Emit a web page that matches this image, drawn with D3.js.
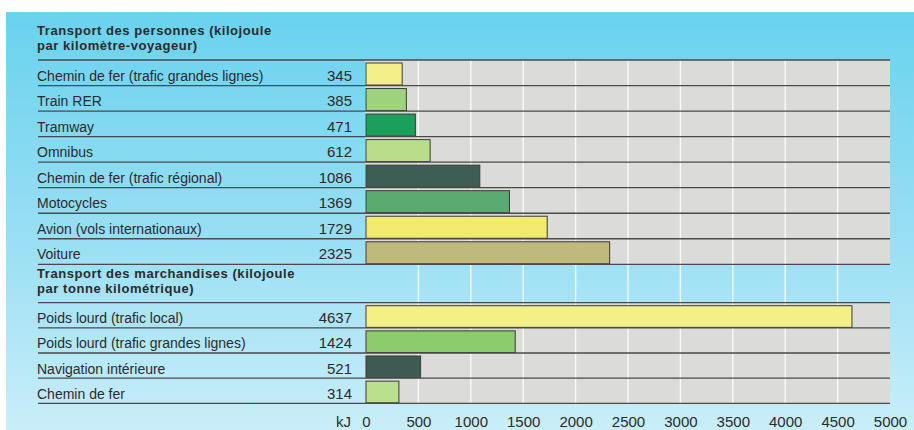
<!DOCTYPE html>
<html lang="fr">
<head>
<meta charset="UTF-8">
<title>Transport - consommation d'énergie</title>
<script src="https://cdnjs.cloudflare.com/ajax/libs/d3/7.8.5/d3.min.js"></script>
<style>
    body { margin: 0; background: #fff; font-family: "Liberation Sans", Arial, sans-serif; }
    svg { display: block; }
    .lbl { font-size: 14px; fill: #2b2b2b; }
    .num { font-size: 15px; fill: #2b2b2b; }
    .head { font-size: 13px; font-weight: bold; fill: #2b2b2b; letter-spacing: 0.55px; }
    .axis text { font-size: 15px; fill: #2b2b2b; font-family: "Liberation Sans", Arial, sans-serif; }
</style>
</head>
<body>
<div id="chart"></div>
<script>
    // data
    const personLabels = [
        "Chemin de fer (trafic grandes lignes)", "Train RER", "Tramway", "Omnibus",
        "Chemin de fer (trafic régional)", "Motocycles", "Avion (vols internationaux)", "Voiture"
    ];
    const personValues = [345, 385, 471, 612, 1086, 1369, 1729, 2325];
    const personColors = ["#f4ef8a", "#9ed27c", "#1c9f5a", "#b8de8c", "#3e5e55", "#5aaa72", "#f1ea6c", "#bfb97c"];

    const goodsLabels = [
        "Poids lourd (trafic local)", "Poids lourd (trafic grandes lignes)",
        "Navigation intérieure", "Chemin de fer"
    ];
    const goodsValues = [4637, 1424, 521, 314];
    const goodsColors = ["#f4ef86", "#8ccc6c", "#3d5b52", "#b9e08c"];

    const personTitle = ["Transport des personnes (kilojoule", "par kilomètre-voyageur)"];
    const goodsTitle = ["Transport des marchandises (kilojoule", "par tonne kilométrique)"];
    const tickValues = [0, 500, 1000, 1500, 2000, 2500, 3000, 3500, 4000, 4500, 5000];
    const unitLabel = "kJ";

    const W = 914, H = 430;
    const lineLeft = 38, valueRight = 352;

    const svg = d3.select("#chart").append("svg")
        .attr("width", W).attr("height", H);

    const grad = svg.append("defs").append("linearGradient")
        .attr("id", "bg").attr("x1", 0).attr("y1", 0).attr("x2", 0).attr("y2", 1);
    grad.append("stop").attr("offset", "0%").attr("stop-color", "#69d2ee");
    grad.append("stop").attr("offset", "55%").attr("stop-color", "#9adff4");
    grad.append("stop").attr("offset", "100%").attr("stop-color", "#c9eef9");

    svg.append("rect").attr("x", 6).attr("y", 12)
        .attr("width", W - 6).attr("height", H - 12).attr("fill", "url(#bg)");

    const x = d3.scaleLinear().domain([0, 5000]).range([366, 890]);

    const yP = d3.scaleBand().domain(personLabels).range([60, 264.3]);
    const yG = d3.scaleBand().domain(goodsLabels).range([302.7, 403.3]);

    const sections = [
        {labels: personLabels, values: personValues, colors: personColors, y: yP, title: personTitle, titleY: 35},
        {labels: goodsLabels, values: goodsValues, colors: goodsColors, y: yG, title: goodsTitle, titleY: 278}
    ];

    // grey plot rows
    sections.forEach(s => {
        svg.append("rect")
            .attr("x", x(0) - 1).attr("y", s.y.range()[0])
            .attr("width", x(5000) - x(0) + 1).attr("height", s.y.range()[1] - s.y.range()[0])
            .attr("fill", "#dbdbd9");
    });

    // white grid lines
    svg.append("g").selectAll("line")
        .data(tickValues.filter(t => t > 0 && t < 5000))
        .join("line")
        .attr("x1", d => x(d)).attr("x2", d => x(d))
        .attr("y1", yP.range()[0]).attr("y2", yG.range()[1])
        .attr("stroke", "#ffffff").attr("stroke-opacity", 0.85).attr("stroke-width", 1.4);

    sections.forEach(s => {
        const g = svg.append("g");
        const bw = s.y.bandwidth();

        g.selectAll("rect.bar")
            .data(s.values)
            .join("rect")
            .attr("class", "bar")
            .attr("x", x(0))
            .attr("y", (d, i) => s.y(s.labels[i]) + 3)
            .attr("width", d => x(d) - x(0))
            .attr("height", bw - 3.5)
            .attr("fill", (d, i) => s.colors[i])
            .attr("stroke", "#3a3a3a").attr("stroke-width", 1);

        g.selectAll("text.name")
            .data(s.labels)
            .join("text")
            .attr("class", "lbl name")
            .attr("x", lineLeft - 1)
            .attr("y", d => s.y(d) + 20.5)
            .text(d => d);

        g.selectAll("text.val")
            .data(s.values)
            .join("text")
            .attr("class", "num val")
            .attr("text-anchor", "end")
            .attr("x", valueRight)
            .attr("y", (d, i) => s.y(s.labels[i]) + 20.5)
            .text(d => d);

        // row separators
        const edges = s.labels.map(l => s.y(l)).concat([s.y.range()[1]]);
        g.selectAll("line.sep")
            .data(edges)
            .join("line")
            .attr("class", "sep")
            .attr("x1", lineLeft).attr("x2", x(5000))
            .attr("y1", d => d).attr("y2", d => d)
            .attr("stroke", "#4a4a4a").attr("stroke-width", 1.3);

        g.selectAll("text.head")
            .data(s.title)
            .join("text")
            .attr("class", "head")
            .attr("x", lineLeft - 1)
            .attr("y", (d, i) => s.titleY + i * 15)
            .text(d => d);
    });

    const axis = svg.append("g")
        .attr("class", "axis")
        .attr("transform", `translate(0,406)`)
        .call(d3.axisBottom(x).tickValues(tickValues).tickSize(0).tickPadding(10).tickFormat(d3.format("d")));
    axis.select(".domain").remove();

    svg.append("text")
        .attr("class", "num")
        .attr("text-anchor", "end")
        .attr("x", 351).attr("y", 427)
        .text(unitLabel);
</script>
</body>
</html>
